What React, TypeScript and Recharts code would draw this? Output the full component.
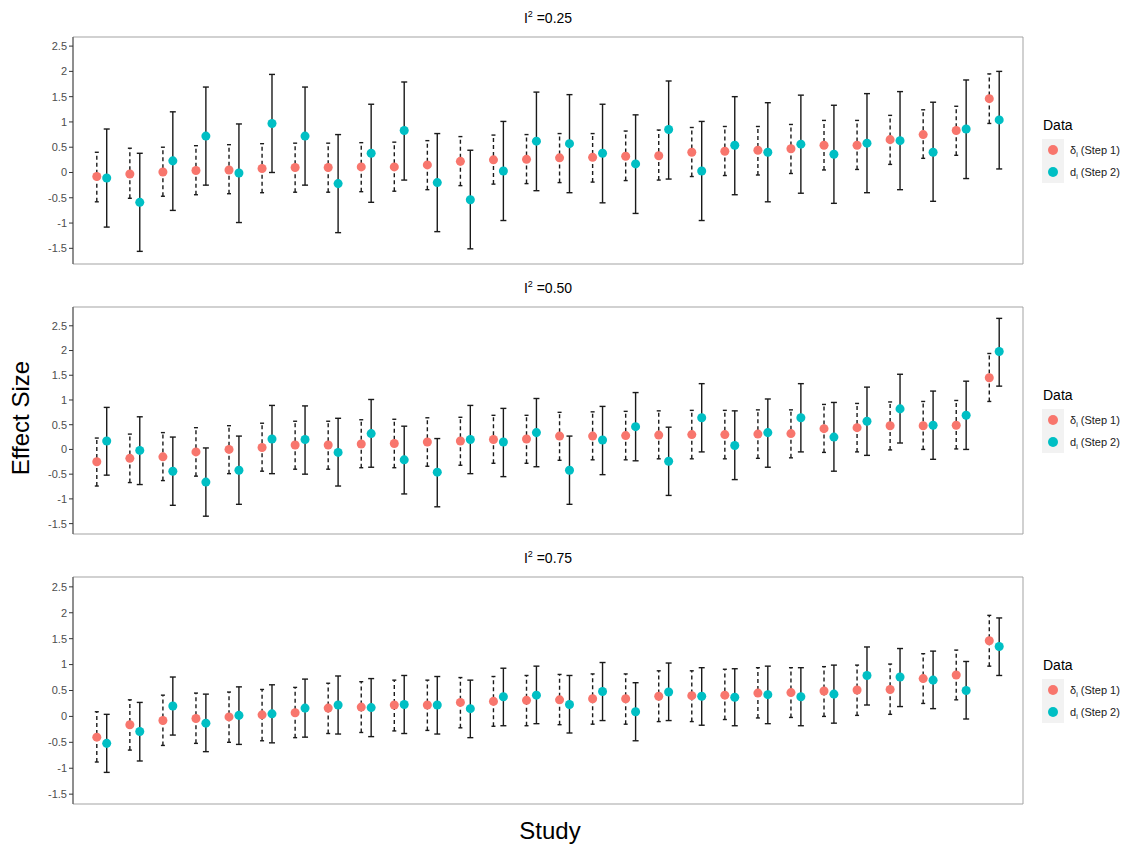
import React from 'react'
import { ScatterChart, Scatter, XAxis, YAxis, ZAxis, ErrorBar, ReferenceArea, Legend } from 'recharts'

const FONT = '"Liberation Sans", Arial, Helvetica, sans-serif'

const studyIds = [1, 2, 3, 4, 5, 6, 7, 8, 9, 10, 11, 12, 13, 14, 15, 16, 17, 18, 19, 20, 21, 22, 23, 24, 25, 26, 27, 28]
const yTicks = [-1.5, -1, -0.5, 0, 0.5, 1, 1.5, 2, 2.5]

// I^2 = 0.25
const step1Est25 = [-0.08, -0.03, 0.01, 0.04, 0.05, 0.08, 0.10, 0.10, 0.11, 0.11, 0.15, 0.22, 0.25, 0.26, 0.29, 0.30, 0.32, 0.33, 0.40, 0.42, 0.44, 0.47, 0.54, 0.54, 0.65, 0.75, 0.83, 1.46]
const step1Lo25 = [-0.58, -0.51, -0.47, -0.44, -0.42, -0.40, -0.39, -0.39, -0.38, -0.37, -0.34, -0.26, -0.23, -0.22, -0.20, -0.19, -0.16, -0.15, -0.08, -0.06, -0.05, -0.02, 0.05, 0.06, 0.16, 0.28, 0.34, 0.97]
const step1Hi25 = [0.40, 0.48, 0.50, 0.53, 0.55, 0.57, 0.58, 0.58, 0.59, 0.60, 0.63, 0.71, 0.74, 0.75, 0.77, 0.77, 0.82, 0.84, 0.89, 0.91, 0.91, 0.95, 1.03, 1.03, 1.13, 1.24, 1.31, 1.95]
const step2Est25 = [-0.11, -0.59, 0.23, 0.72, -0.01, 0.97, 0.72, -0.22, 0.38, 0.83, -0.20, -0.54, 0.03, 0.62, 0.57, 0.38, 0.17, 0.85, 0.03, 0.54, 0.40, 0.56, 0.36, 0.58, 0.63, 0.40, 0.86, 1.04]
const step2Lo25 = [-1.08, -1.56, -0.75, -0.25, -0.99, 0.00, -0.25, -1.19, -0.59, -0.15, -1.17, -1.51, -0.95, -0.36, -0.40, -0.60, -0.81, -0.13, -0.95, -0.44, -0.58, -0.41, -0.61, -0.40, -0.34, -0.57, -0.12, 0.07]
const step2Hi25 = [0.86, 0.38, 1.20, 1.69, 0.96, 1.94, 1.69, 0.75, 1.35, 1.79, 0.77, 0.44, 1.01, 1.59, 1.54, 1.35, 1.14, 1.81, 1.01, 1.50, 1.38, 1.53, 1.33, 1.56, 1.60, 1.39, 1.83, 2.00]

// I^2 = 0.50
const step1Est50 = [-0.25, -0.18, -0.15, -0.05, 0.00, 0.04, 0.09, 0.09, 0.11, 0.12, 0.15, 0.17, 0.20, 0.21, 0.27, 0.27, 0.28, 0.29, 0.30, 0.30, 0.31, 0.32, 0.42, 0.44, 0.48, 0.48, 0.49, 1.45]
const step1Lo50 = [-0.74, -0.67, -0.63, -0.54, -0.49, -0.44, -0.40, -0.40, -0.37, -0.37, -0.34, -0.32, -0.28, -0.28, -0.22, -0.21, -0.21, -0.19, -0.19, -0.19, -0.18, -0.17, -0.06, -0.05, -0.01, 0.00, 0.01, 0.97]
const step1Hi50 = [0.23, 0.31, 0.34, 0.44, 0.48, 0.53, 0.57, 0.57, 0.60, 0.61, 0.64, 0.65, 0.69, 0.69, 0.75, 0.76, 0.77, 0.78, 0.79, 0.79, 0.80, 0.80, 0.91, 0.93, 0.96, 0.97, 0.99, 1.94]
const step2Est50 = [0.17, -0.02, -0.44, -0.66, -0.42, 0.21, 0.20, -0.06, 0.32, -0.21, -0.46, 0.20, 0.15, 0.34, -0.42, 0.19, 0.46, -0.24, 0.64, 0.08, 0.34, 0.64, 0.25, 0.57, 0.82, 0.49, 0.69, 1.98]
const step2Lo50 = [-0.52, -0.71, -1.13, -1.35, -1.11, -0.49, -0.50, -0.74, -0.36, -0.90, -1.16, -0.49, -0.55, -0.35, -1.11, -0.51, -0.23, -0.93, -0.05, -0.61, -0.36, -0.05, -0.44, -0.12, 0.13, -0.20, 0.00, 1.28]
const step2Hi50 = [0.85, 0.66, 0.25, 0.03, 0.27, 0.89, 0.88, 0.63, 1.01, 0.47, 0.22, 0.89, 0.83, 1.03, 0.27, 0.87, 1.15, 0.45, 1.33, 0.78, 1.02, 1.33, 0.95, 1.26, 1.52, 1.18, 1.38, 2.65]

// I^2 = 0.75
const step1Est75 = [-0.40, -0.16, -0.08, -0.04, -0.01, 0.03, 0.07, 0.16, 0.18, 0.22, 0.22, 0.27, 0.29, 0.31, 0.32, 0.34, 0.34, 0.39, 0.40, 0.41, 0.45, 0.46, 0.49, 0.51, 0.52, 0.73, 0.80, 1.46]
const step1Lo75 = [-0.88, -0.65, -0.56, -0.52, -0.50, -0.47, -0.41, -0.33, -0.31, -0.28, -0.27, -0.22, -0.19, -0.18, -0.16, -0.15, -0.15, -0.10, -0.10, -0.06, -0.03, -0.02, 0.00, 0.02, 0.04, 0.25, 0.32, 0.97]
const step1Hi75 = [0.09, 0.32, 0.41, 0.45, 0.47, 0.52, 0.56, 0.64, 0.67, 0.70, 0.70, 0.75, 0.77, 0.79, 0.81, 0.82, 0.82, 0.88, 0.88, 0.91, 0.94, 0.94, 0.96, 0.99, 1.01, 1.21, 1.28, 1.95]
const step2Est75 = [-0.52, -0.29, 0.20, -0.13, 0.02, 0.05, 0.16, 0.22, 0.17, 0.23, 0.22, 0.15, 0.38, 0.41, 0.23, 0.48, 0.09, 0.47, 0.39, 0.37, 0.42, 0.38, 0.43, 0.79, 0.76, 0.70, 0.50, 1.35]
const step2Lo75 = [-1.08, -0.86, -0.36, -0.68, -0.54, -0.51, -0.40, -0.34, -0.39, -0.33, -0.34, -0.41, -0.18, -0.14, -0.32, -0.08, -0.47, -0.08, -0.17, -0.18, -0.14, -0.18, -0.13, 0.22, 0.19, 0.15, -0.05, 0.79]
const step2Hi75 = [0.04, 0.27, 0.76, 0.43, 0.57, 0.61, 0.72, 0.78, 0.73, 0.79, 0.77, 0.70, 0.93, 0.97, 0.79, 1.04, 0.65, 1.03, 0.94, 0.92, 0.97, 0.94, 0.99, 1.34, 1.31, 1.26, 1.06, 1.90]

const RED = '#F8766D'
const TEAL = '#00BFC4'
const DODGE = 0.15

// page layout (px)
const PLOT_LEFT = 73
const PLOT_RIGHT = 1023
const BOX_H = 227
const PAD_TOP = 10
const PAD_BOTTOM = 13

type Row = { x: number; y: number; err: [number, number] }

const toRows = (est: number[], lo: number[], hi: number[], shift: number): Row[] =>
  studyIds.map((id, i) => ({ x: id + shift, y: est[i], err: [est[i] - lo[i], hi[i] - est[i]] }))

const panels = [
  {
    label: '0.25',
    top: 37,
    domain: [-1.81, 2.68],
    step1: toRows(step1Est25, step1Lo25, step1Hi25, -DODGE),
    step2: toRows(step2Est25, step2Lo25, step2Hi25, DODGE),
  },
  {
    label: '0.50',
    top: 307,
    domain: [-1.71, 2.88],
    step1: toRows(step1Est50, step1Lo50, step1Hi50, -DODGE),
    step2: toRows(step2Est50, step2Lo50, step2Hi50, DODGE),
  },
  {
    label: '0.75',
    top: 577,
    domain: [-1.69, 2.69],
    step1: toRows(step1Est75, step1Lo75, step1Hi75, -DODGE),
    step2: toRows(step2Est75, step2Lo75, step2Hi75, DODGE),
  },
]

const xDomain = [0.13, 28.87]

const legendItems = [
  { sym: 'δ', label: ' (Step 1)', color: RED },
  { sym: 'd', label: ' (Step 2)', color: TEAL },
]

function LegendBox() {
  return (
    <div style={{ fontFamily: FONT, color: '#000' }}>
      <div style={{ fontSize: 14, lineHeight: '17px', marginBottom: 5, marginLeft: 1 }}>Data</div>
      <div style={{ display: 'flex' }}>
        <div style={{ width: 22, background: '#f2f2f2' }}>
          {legendItems.map((it) => (
            <div key={it.sym} style={{ height: 22, display: 'flex', alignItems: 'center', justifyContent: 'center' }}>
              <span style={{ width: 10, height: 10, borderRadius: '50%', background: it.color, display: 'block' }} />
            </div>
          ))}
        </div>
        <div style={{ marginLeft: 6 }}>
          {legendItems.map((it) => (
            <div key={it.sym} style={{ height: 22, lineHeight: '22px', fontSize: 11, color: '#1a1a1a', whiteSpace: 'nowrap' }}>
              {it.sym}
              <sub style={{ fontSize: 7, lineHeight: 0 }}>i</sub>
              {it.label}
            </div>
          ))}
        </div>
      </div>
    </div>
  )
}

function Panel({ panel }: { panel: (typeof panels)[number] }) {
  const width = 1126
  const height = PAD_TOP + BOX_H + PAD_BOTTOM
  return (
    <div style={{ position: 'absolute', left: 0, top: panel.top - PAD_TOP }}>
      <ScatterChart
        width={width}
        height={height}
        margin={{ top: PAD_TOP, right: width - PLOT_RIGHT, bottom: PAD_BOTTOM, left: 0 }}
      >
        <ReferenceArea
          x1={xDomain[0]}
          x2={xDomain[1]}
          y1={panel.domain[0]}
          y2={panel.domain[1]}
          fill="none"
          stroke="#a3a3a3"
          strokeWidth={1}
          ifOverflow="visible"
        />
        <XAxis
          type="number"
          dataKey="x"
          domain={xDomain}
          allowDataOverflow
          tick={false}
          tickLine={false}
          height={0}
          axisLine={{ stroke: '#4d4d4d' }}
        />
        <YAxis
          type="number"
          dataKey="y"
          domain={panel.domain}
          allowDataOverflow
          ticks={yTicks}
          interval={0}
          width={PLOT_LEFT}
          tickSize={4}
          tickMargin={2}
          tick={{ fontSize: 11, fill: '#4d4d4d', fontFamily: FONT }}
          tickLine={{ stroke: '#333' }}
          axisLine={{ stroke: '#4d4d4d' }}
        />
        <ZAxis range={[80, 80]} />
        <Legend
          layout="vertical"
          align="center"
          verticalAlign="middle"
          wrapperStyle={{ left: 1042, top: PAD_TOP + 80, width: 84 }}
          content={() => <LegendBox />}
        />
        <Scatter name="step1" data={panel.step1} fill={RED} isAnimationActive={false}>
          <ErrorBar
            dataKey="err"
            direction="y"
            width={2}
            stroke="#1a1a1a"
            strokeWidth={1.4}
            strokeDasharray="4 3"
            isAnimationActive={false}
          />
        </Scatter>
        <Scatter name="step2" data={panel.step2} fill={TEAL} isAnimationActive={false}>
          <ErrorBar
            dataKey="err"
            direction="y"
            width={3}
            stroke="#1a1a1a"
            strokeWidth={1.4}
            isAnimationActive={false}
          />
        </Scatter>
      </ScatterChart>
      <div
        style={{
          position: 'absolute',
          left: PLOT_LEFT,
          width: PLOT_RIGHT - PLOT_LEFT,
          top: PAD_TOP - 28,
          textAlign: 'center',
          fontSize: 14,
          lineHeight: '18px',
          fontFamily: FONT,
          color: '#000',
        }}
      >
        I<sup style={{ fontSize: 9, lineHeight: 0 }}>2</sup> ={panel.label}
      </div>
    </div>
  )
}

export default function App() {
  return (
    <div
      style={{
        position: 'absolute',
        left: 0,
        top: 0,
        width: 1126,
        height: 846,
        background: '#fff',
        fontFamily: FONT,
        overflow: 'hidden',
      }}
    >
      {panels.map((p) => (
        <Panel key={p.label} panel={p} />
      ))}
      <div
        style={{
          position: 'absolute',
          left: 21,
          top: 418,
          transform: 'translate(-50%, -50%) rotate(-90deg)',
          fontSize: 24,
          whiteSpace: 'nowrap',
          color: '#000',
        }}
      >
        Effect Size
      </div>
      <div
        style={{
          position: 'absolute',
          left: 550,
          top: 831,
          transform: 'translate(-50%, -50%)',
          fontSize: 24,
          whiteSpace: 'nowrap',
          color: '#000',
        }}
      >
        Study
      </div>
    </div>
  )
}
